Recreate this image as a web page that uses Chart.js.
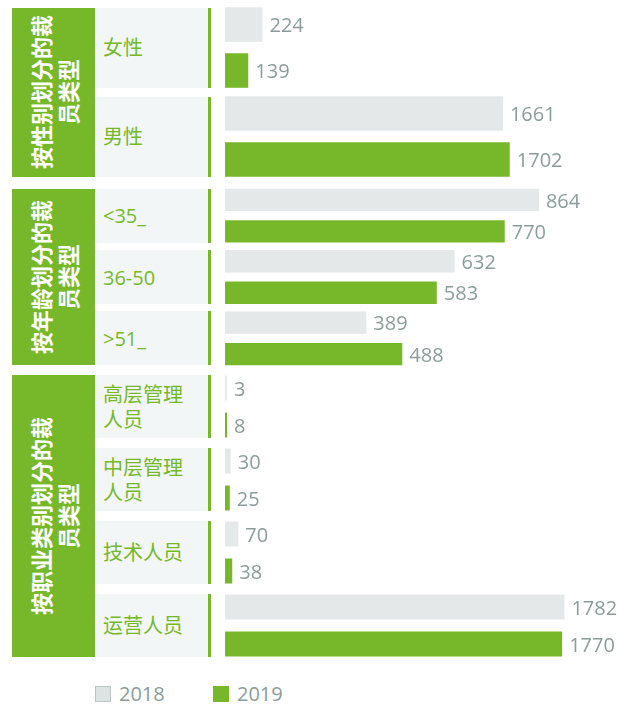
<!DOCTYPE html>
<html>
<head>
<meta charset="utf-8">
<script src="https://cdn.jsdelivr.net/npm/chart.js@4/dist/chart.umd.min.js"></script>
<style>
  body { margin: 0; background: #fff; width: 617px; height: 705px; position: relative; overflow: hidden;
         font-family: "Open Sans", "Noto Sans CJK SC", sans-serif; }
  canvas { position: absolute; left: 225px; }
  .head { position: absolute; left: 12px; width: 83px; background: #76b82a; }
  .head span { position: absolute; left: 50%; top: 50%; transform: translate(-50%, -50%) rotate(-90deg);
               color: #fff; font-family: "Noto Sans CJK SC", sans-serif; font-weight: bold; font-size: 22px;
               line-height: 27px; white-space: pre; text-align: center; }
  .cell { position: absolute; left: 95px; width: 105px; padding-left: 8px; background: #f2f6f7;
          border-right: 3px solid #76b82a; display: flex; align-items: center; color: #76b82a;
          font-size: 20px; line-height: 25px; white-space: pre; }
  .legend { position: absolute; top: 684px; font-size: 20px; color: #8b9c9a; line-height: 20px; }
  .legend i { position: absolute; top: 2px; left: 0; width: 16px; height: 16px; box-sizing: border-box; }
  .legend b { position: absolute; left: 24px; top: 0; font-weight: normal; }
</style>
</head>
<body>
<script>
const seriesNames = ['2018', '2019'];
const groupTitles = ['按性别划分的裁\n员类型', '按年龄划分的裁\n员类型', '按职业类别划分的裁\n员类型'];

const genderLabels = ['女性', '男性'];
const gender2018 = [224, 1661];
const gender2019 = [139, 1702];

const ageLabels = ['<35_', '36-50', '>51_'];
const age2018 = [864, 632, 389];
const age2019 = [770, 583, 488];

const jobLabels = ['高层管理\n人员', '中层管理\n人员', '技术人员', '运营人员'];
const job2018 = [3, 30, 70, 1782];
const job2019 = [8, 25, 38, 1770];

const colors = ['#e4e8e9', '#76b82a'];

// one small chart per group, each with its own x range
const panels = [
  { title: groupTitles[0], labels: genderLabels, a: gender2018, b: gender2019,
    top: 3, height: 178, xMax: 2343, catPct: 1.034, barPct: 0.75, cellH: 80 },
  { title: groupTitles[1], labels: ageLabels, a: age2018, b: age2019,
    top: 185, height: 184, xMax: 1079, catPct: 1.027, barPct: 0.71, cellH: 54 },
  { title: groupTitles[2], labels: jobLabels, a: job2018, b: job2019,
    top: 370, height: 292, xMax: 2058, catPct: 1.014, barPct: 0.676, cellH: 63 }
];

const valueLabels = {
  id: 'valueLabels',
  afterDatasetsDraw(chart) {
    const ctx = chart.ctx;
    ctx.save();
    ctx.font = '20px "Open Sans"';
    ctx.fillStyle = '#8b9c9a';
    ctx.textBaseline = 'middle';
    chart.data.datasets.forEach((ds, i) => {
      chart.getDatasetMeta(i).data.forEach((bar, j) => {
        ctx.fillText(ds.data[j], bar.x + 7, bar.y + 2);
      });
    });
    ctx.restore();
  }
};

function el(tag, cls, css, text) {
  const e = document.createElement(tag);
  if (cls) e.className = cls;
  Object.assign(e.style, css || {});
  if (text != null) e.textContent = text;
  document.body.appendChild(e);
  return e;
}

panels.forEach(p => {
  const canvas = document.createElement('canvas');
  canvas.width = 392;
  canvas.height = p.height;
  canvas.style.top = p.top + 'px';
  document.body.appendChild(canvas);

  const chart = new Chart(canvas, {
    type: 'bar',
    data: {
      labels: p.labels,
      datasets: [
        { label: seriesNames[0], data: p.a, backgroundColor: colors[0] },
        { label: seriesNames[1], data: p.b, backgroundColor: colors[1] }
      ]
    },
    options: {
      indexAxis: 'y',
      responsive: false,
      animation: false,
      devicePixelRatio: 1,
      categoryPercentage: p.catPct,
      barPercentage: p.barPct,
      minBarLength: 2,
      layout: { padding: 0 },
      plugins: { legend: { display: false }, tooltip: { enabled: false } },
      scales: {
        x: { display: false, min: 0, max: p.xMax },
        y: { display: false }
      }
    },
    plugins: [valueLabels]
  });

  // category cells follow the chart's own y scale
  const y = chart.scales.y;
  let first = 0, last = 0;
  p.labels.forEach((lab, i) => {
    const top = p.top + y.getPixelForValue(i) - p.cellH / 2;
    if (i === 0) first = top;
    last = top + p.cellH;
    el('div', 'cell', { top: top + 'px', height: p.cellH + 'px' }, lab);
  });
  const head = el('div', 'head', { top: first + 'px', height: (last - first) + 'px' });
  const span = document.createElement('span');
  span.textContent = p.title;
  head.appendChild(span);
});

// legend
[[95, 0], [213, 1]].forEach(([x, i]) => {
  const item = el('div', 'legend', { left: x + 'px' });
  const box = document.createElement('i');
  box.style.background = i === 0 ? '#dde3e3' : colors[1];
  box.style.border = i === 0 ? '1px solid #b9c4c3' : 'none';
  const txt = document.createElement('b');
  txt.textContent = seriesNames[i];
  item.appendChild(box);
  item.appendChild(txt);
});
</script>
</body>
</html>
